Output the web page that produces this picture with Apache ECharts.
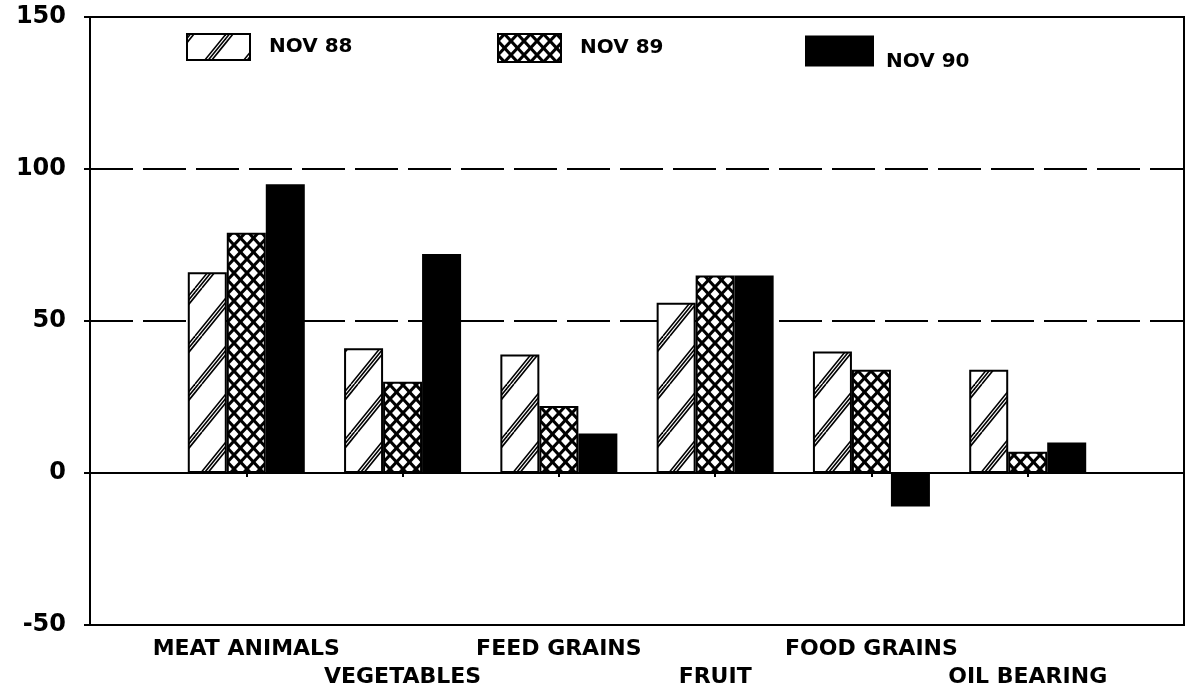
<!DOCTYPE html>
<html>
<head>
<meta charset="utf-8">
<style>
  html, body { margin: 0; padding: 0; background: #fff; }
  #chart { width: 1187px; height: 691px; }
</style>
<script src="https://cdn.jsdelivr.net/npm/echarts@6/dist/echarts.min.js"></script>
</head>
<body>
<div id="chart"></div>
<script>
// categories padded with empty slots so the groups sit on the inner ticks
const categories = ['', 'MEAT ANIMALS', 'VEGETABLES', 'FEED GRAINS', 'FRUIT', 'FOOD GRAINS', 'OIL BEARING', ''];
const nov88 = [null, 66, 41, 39, 56, 40, 34, null];
const nov89 = [null, 79, 30, 22, 65, 34, 7, null];
const nov90 = [null, 95, 72, 13, 65, -11, 10, null];
const yTicks = [-50, 0, 50, 100, 150];

const FONT = 'DejaVu Sans';

//diagonal triple-line hatch
function hatchPattern() {
    const w = 39, h = 48;
    const c = document.createElement('canvas');
    c.width = w; c.height = h;
    const ctx = c.getContext('2d');
    ctx.fillStyle = '#fff';
    ctx.fillRect(0, 0, w, h);
    ctx.strokeStyle = '#000';
    ctx.lineWidth = 1.6;
    for (let k = -1; k <= 1; k++) {
        for (const dx of [0, 3.5, 7]) {
            ctx.beginPath();
            ctx.moveTo(k * w + dx, h);
            ctx.lineTo((k + 1) * w + dx, 0);
            ctx.stroke();
        }
    }
    return c;
}

//black crosshatch with white diamonds
function crossPattern() {
    const w = 13, h = 14;
    const c = document.createElement('canvas');
    c.width = w; c.height = h;
    const ctx = c.getContext('2d');
    ctx.fillStyle = '#000';
    ctx.fillRect(0, 0, w, h);
    ctx.fillStyle = '#fff';
    const rx = 4.4, ry = 4.8;
    const centres = [[w / 2, h / 2], [0, 0], [w, 0], [0, h], [w, h]];
    centres.forEach(([cx, cy]) => {
        ctx.beginPath();
        ctx.moveTo(cx - rx, cy);
        ctx.lineTo(cx, cy - ry);
        ctx.lineTo(cx + rx, cy);
        ctx.lineTo(cx, cy + ry);
        ctx.closePath();
        ctx.fill();
    });
    return c;
}

const chart = echarts.init(document.getElementById('chart'));

const barStyle = (fill) => ({
    color: fill,
    borderColor: '#000',
    borderWidth: 2
});

const legendBase = {
    orient: 'horizontal',
    icon: 'rect',
    itemWidth: 63,
    itemHeight: 26,
    selectedMode: false,
    textStyle: { fontFamily: FONT, fontWeight: 'bold', fontSize: 20, color: '#000' }
};

const option = {
    animation: false,
    backgroundColor: '#fff',
    grid: {
        left: 90, right: 0, top: 17, bottom: 63,
        show: true, borderColor: '#000', borderWidth: 2
    },
    legend: [
        Object.assign({}, legendBase, {
            left: 181, top: 28, data: ['NOV 88'],
            textStyle: Object.assign({}, legendBase.textStyle, { padding: [0, 0, 0, 14] })
        }),
        Object.assign({}, legendBase, {
            left: 492, top: 28, itemHeight: 28, data: ['NOV 89'],
            textStyle: Object.assign({}, legendBase.textStyle, { padding: [0, 0, 0, 14] })
        }),
        //NOV 90 text sits lower than its box in the original
        Object.assign({}, legendBase, {
            left: 800, top: 24, itemWidth: 67, itemHeight: 29, data: ['NOV 90'],
            formatter: (name) => '\n' + name,
            textStyle: Object.assign({}, legendBase.textStyle, { lineHeight: 22, padding: [0, 0, 0, 8] })
        })
    ],
    xAxis: {
        type: 'category',
        data: categories,
        boundaryGap: false,
        axisLine: { lineStyle: { color: '#000', width: 2 } },
        axisTick: { show: true, length: 4, inside: false, lineStyle: { color: '#000', width: 2 } },
        axisLabel: {
            interval: 0,
            margin: 10,
            color: '#000',
            fontFamily: FONT,
            fontWeight: 'bold',
            fontSize: 22,
            lineHeight: 28,
            formatter: (value, idx) => (idx % 2 === 0 && value ? '\n' + value : value)
        },
        splitLine: { show: false }
    },
    yAxis: {
        type: 'value',
        min: yTicks[0],
        max: yTicks[yTicks.length - 1],
        interval: 50,
        axisLine: { show: true, lineStyle: { color: '#000', width: 2 } },
        axisTick: { show: true, length: 6, lineStyle: { color: '#000', width: 2 } },
        axisLabel: {
            margin: 24,
            color: '#000',
            fontFamily: FONT,
            fontWeight: 'bold',
            fontSize: 24
        },
        splitLine: {
            show: true,
            lineStyle: { color: '#000', width: 2, type: [43, 10] }
        }
    },
    series: [
        {
            name: 'NOV 88',
            type: 'bar',
            data: nov88,
            barWidth: 39,
            barGap: '0%',
            itemStyle: barStyle({ image: hatchPattern(), repeat: 'repeat' })
        },
        {
            name: 'NOV 89',
            type: 'bar',
            data: nov89,
            barWidth: 39,
            barGap: '0%',
            itemStyle: barStyle({ image: crossPattern(), repeat: 'repeat' })
        },
        {
            name: 'NOV 90',
            type: 'bar',
            data: nov90,
            barWidth: 39,
            barGap: '0%',
            itemStyle: barStyle('#000'),
            markLine: {
                silent: true,
                symbol: 'none',
                label: { show: false },
                lineStyle: { color: '#000', width: 2, type: 'solid' },
                data: [{ yAxis: 0 }]
            }
        }
    ]
};

chart.setOption(option);
</script>
</body>
</html>
